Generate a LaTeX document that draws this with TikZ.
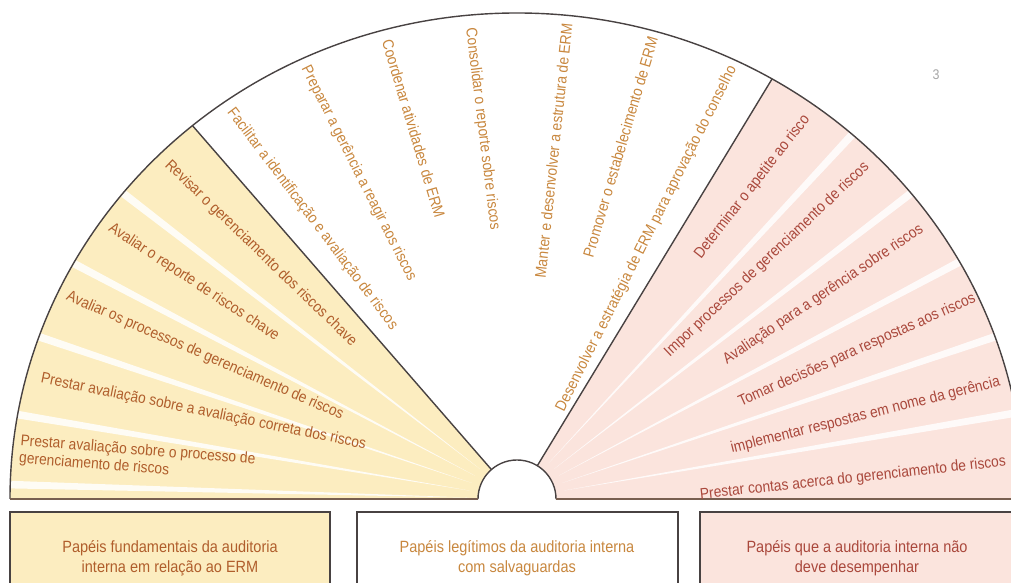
\documentclass[tikz,border=0pt]{standalone}
\usepackage{fontspec}
\setmainfont{Liberation Sans}[FakeStretch=0.89]
\usetikzlibrary{calc}
\definecolor{leftfill}{RGB}{252,237,192}
\definecolor{rightfill}{RGB}{251,228,221}
\definecolor{lefttxt}{RGB}{176,94,44}
\definecolor{midtxt}{RGB}{200,135,62}
\definecolor{righttxt}{RGB}{170,72,60}
\definecolor{edge}{RGB}{72,66,66}
\definecolor{baseedge}{RGB}{120,95,80}
\newcommand\fanfont{\fontsize{15.5}{17.5}\selectfont}
\newcommand\boxfont{\fontsize{16.3}{20}\selectfont}
\begin{document}
\begin{tikzpicture}[x=1pt,y=1pt,
  fan/.style={font=\fanfont, inner sep=0pt},
  lt/.style={fan, text=lefttxt, anchor=west},
  mtw/.style={fan, text=midtxt, anchor=west},
  mte/.style={fan, text=midtxt, anchor=east},
  rt/.style={fan, text=righttxt, anchor=east},
  outline/.style={draw=edge, line width=1.4pt},
  boxframe/.style={draw=edge, line width=1.2pt},
  boxtext/.style={font=\boxfont, align=center, inner sep=0pt},
  stripe/.style={fill=white, opacity=0.85}]
\useasboundingbox (0,0) rectangle (1011,583);
\clip (0,0) rectangle (1011,583);
\coordinate (C) at (517,84);

% sectors
\fill[leftfill] ($(C)+(180:39)$) -- ($(C)+(180:507 and 486)$)
  arc[start angle=180, end angle=129.8, x radius=507, y radius=486]
  -- ($(C)+(131:39)$) arc[start angle=131, end angle=180, radius=39] -- cycle;
\fill[rightfill] ($(C)+(0:39)$) -- ($(C)+(0:507 and 486)$)
  arc[start angle=0, end angle=59.8, x radius=507, y radius=486]
  -- ($(C)+(58.6:39)$) arc[start angle=58.6, end angle=0, radius=39] -- cycle;

% white rays
\foreach \a in {141,151,160.5,170,178.3, 48.6,39,29.2,19.5,10.2}{
  \pgfmathsetmacro\aa{\a-0.45}
  \pgfmathsetmacro\ab{\a+0.45}
  \fill[stripe] ($(C)+(\a:48)$) -- ($(C)+(\aa:507 and 486)$) -- ($(C)+(\ab:507 and 486)$) -- cycle;
}

% outlines
\draw[outline] ($(C)+(180:507 and 486)$) arc[start angle=180, end angle=0, x radius=507, y radius=486];
\draw[outline] ($(C)+(131:39)$) -- ($(C)+(129.8:507 and 486)$);
\draw[outline] ($(C)+(58.6:39)$) -- ($(C)+(59.8:507 and 486)$);
\draw[outline] ($(C)+(0:39)$) arc[start angle=0, end angle=180, radius=39];
\draw[draw=baseedge, line width=1.4pt] ($(C)+(180:507 and 486)$) -- ($(C)+(180:39)$);
\draw[draw=baseedge, line width=1.4pt] ($(C)+(0:39)$) -- ($(C)+(0:507 and 486)$);

% left texts
\node[lt, rotate=-44]   (l1) at (167,420) {Revisar o gerenciamento dos riscos chave};
\node[lt, rotate=-33.5] (l2) at (110,356) {Avaliar o reporte de riscos chave};
\node[lt, rotate=-23.5] (l3) at (67,287)  {Avaliar os processos de gerenciamento de riscos};
\node[lt, rotate=-11.5] (l4) at (41,204)  {Prestar avaliação sobre a avaliação correta dos riscos};
\node[fan, text=lefttxt, anchor=north west, align=left, rotate=-4.5] (l5) at (21,149)
  {Prestar avaliação sobre o processo de\\gerenciamento de riscos};

% middle texts
\node[mtw, rotate=-53]   (m1) at (230,473) {Facilitar a identificação e avaliação de riscos};
\node[mtw, rotate=-63.3] (m2) at (305,516) {Preparar a gerência a reagir aos riscos};
\node[mtw, rotate=-73.3] (m3) at (387,543) {Coordenar atividades de ERM};
\node[mtw, rotate=-83]   (m4) at (470,555) {Consolidar o reporte sobre riscos};
\node[mte, rotate=84]    (m5) at (567,560) {Manter e desenvolver a estrutura de ERM};
\node[mte, rotate=73.5]  (m6) at (653,546) {Promover o estabelecimento de ERM};
\node[mte, rotate=63.3]  (m7) at (733,516) {Desenvolver a estratégia de ERM para aprovação do conselho};

% right texts
\node[rt, rotate=52]   (r1) at (807,466) {Determinar o apetite ao risco};
\node[rt, rotate=43.5] (r2) at (867,418) {Impor processos de gerenciamento de riscos};
\node[rt, rotate=34]   (r3) at (922,355) {Avaliação para a gerência sobre riscos};
\node[rt, rotate=24]   (r4) at (975,285) {Tomar decisões para respostas aos riscos};
\node[rt, rotate=14]   (r5) at (1000,201) {implementar respostas em nome da gerência};
\node[rt, rotate=6.2]  (r6) at (1006,121) {Prestar contas acerca do gerenciamento de riscos};

% stray mark
\node[font=\fontsize{14}{14}\selectfont, text=black!35] (mark) at (936,508) {3};

% legend boxes
\draw[boxframe, fill=leftfill]  (10,71) rectangle (330,-10);
\draw[boxframe, fill=white]     (357,71) rectangle (678,-10);
\draw[boxframe, fill=rightfill] (700,71) rectangle (1030,-10);
\node[boxtext, text=lefttxt]  (b1) at (170,25) {Papéis fundamentais da auditoria\\interna em relação ao ERM};
\node[boxtext, text=midtxt]   (b2) at (517,25) {Papéis legítimos da auditoria interna\\com salvaguardas};
\node[boxtext, text=righttxt] (b3) at (857,25) {Papéis que a auditoria interna não\\deve desempenhar};
\end{tikzpicture}
\end{document}
